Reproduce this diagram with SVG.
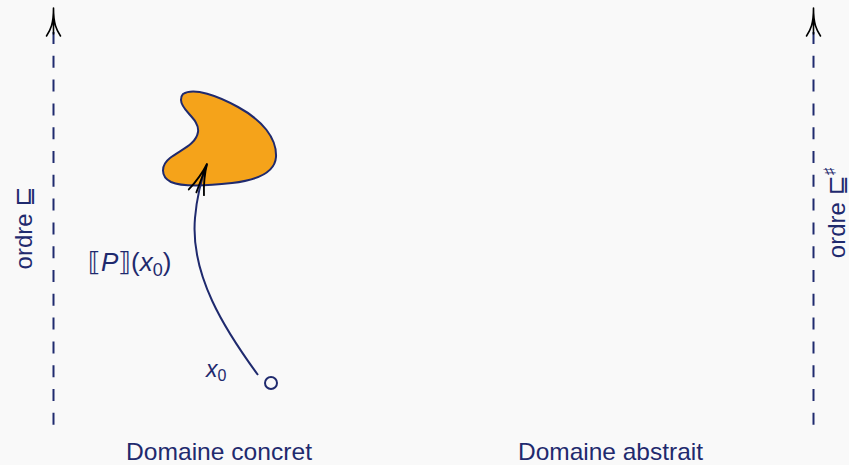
<svg xmlns="http://www.w3.org/2000/svg" width="849" height="465" viewBox="0 0 849 465">
  <style>
    .axis { fill: none; stroke: #1f2a6e; stroke-width: 2; stroke-dasharray: 12 11.8; }
    .tip { fill: none; stroke: #000; stroke-width: 1.6; stroke-linecap: round; }
    .edge { fill: none; stroke: #1f2a6e; stroke-width: 2; }
    .lbl { font-family: "Liberation Sans", "DejaVu Sans", sans-serif; fill: #1f2a6e; }
    .it { font-style: italic; }
  </style>
  <defs>
    <marker id="to" markerUnits="userSpaceOnUse" markerWidth="40" markerHeight="40" viewBox="-32 -15 37 30" refX="0" refY="0" orient="auto">
      <path d="M -28,-7.5 C -17,-3 -9,-1 0,0 C -9,1 -17,3 -28,7.5 M -28,0 L 0,0" fill="none" stroke="#000" stroke-width="1.7" stroke-linecap="round"/>
    </marker>
  </defs>
  <rect width="849" height="465" fill="#f9f9f9"/>

  <!-- left order axis (concrete domain) -->
  <g id="axis-concrete">
    <line class="axis" x1="53.5" y1="32" x2="53.5" y2="427"/>
    <path class="tip" d="M 46.5,36 C 50.5,30 53.5,24 53.5,8 C 53.5,24 56.5,30 60.5,36 M 53.5,8 L 53.5,34"/>
    <text class="lbl" font-size="24" text-anchor="middle" transform="translate(32,228) rotate(-90)">ordre ⊑</text>
  </g>

  <!-- right order axis (abstract domain) -->
  <g id="axis-abstract">
    <line class="axis" x1="813.5" y1="32" x2="813.5" y2="427"/>
    <path class="tip" d="M 806.5,36 C 810.5,30 813.5,24 813.5,8 C 813.5,24 816.5,30 820.5,36 M 813.5,8 L 813.5,34"/>
    <text class="lbl" font-size="24" text-anchor="middle" transform="translate(845,213) rotate(-90)">ordre ⊑<tspan font-size="15" dy="-11">♯</tspan></text>
  </g>

  <!-- reachable set of P from x0 -->
  <g id="blob">
    <path d="M 183,94 C 194,87 218,96 238,107 C 262,120 277,138 276,157 C 275,172 258,180 232,183 C 206,186 182,187 171,182 C 160,176 161,165 170,158 C 180,150 196,145 198,132 C 200,119 181,111 181,100 C 181,97 182,95 183,94 Z" fill="#f5a31a" stroke="#1f2a6e" stroke-width="2"/>
  </g>

  <!-- initial state -->
  <g id="x0">
    <circle cx="271" cy="383" r="6" fill="none" stroke="#1f2a6e" stroke-width="2"/>
    <text class="lbl it" x="206" y="377" font-size="23">x<tspan font-style="normal" font-size="16" dy="4">0</tspan></text>
  </g>

  <g id="connectors">
    <path class="edge" d="M 258,375 C 225,330 190,275 195,218 C 197,195 201,180 207,164" marker-end="url(#to)"/>
  </g>

  <text class="lbl" x="88" y="271" font-size="26">⟦<tspan class="it">P</tspan>⟧(<tspan class="it">x</tspan><tspan font-size="18" dy="5">0</tspan><tspan dy="-5">)</tspan></text>

  <text class="lbl" x="126" y="460" font-size="24" textLength="186" lengthAdjust="spacingAndGlyphs">Domaine concret</text>
  <text class="lbl" x="518" y="460" font-size="24" textLength="185" lengthAdjust="spacingAndGlyphs">Domaine abstrait</text>
</svg>
